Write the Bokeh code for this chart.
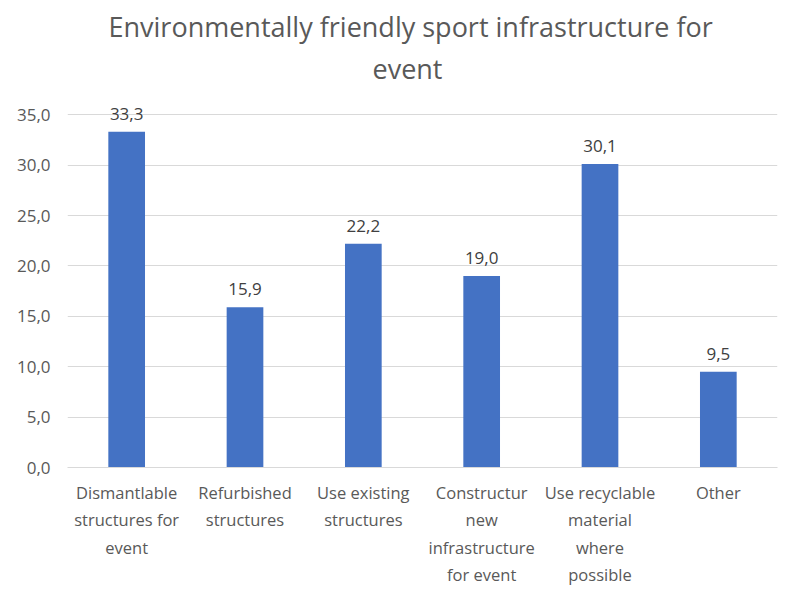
from bokeh.plotting import figure
from bokeh.models import FactorRange, Range1d, Title, ColumnDataSource, FixedTicker, CustomJSTickFormatter
from bokeh.core.properties import value
from bokeh.embed import file_html
from bokeh.resources import INLINE

categories = [
    "Dismantlable\nstructures for\nevent",
    "Refurbished\nstructures",
    "Use existing\nstructures",
    "Constructur\nnew\ninfrastructure\nfor event",
    "Use recyclable\nmaterial\nwhere\npossible",
    "Other",
]
values = [33.3, 15.9, 22.2, 19.0, 30.1, 9.5]
y_ticks = [0, 5, 10, 15, 20, 25, 30, 35]
title_lines = ["Environmentally friendly sport infrastructure for", "event"]

FONT = "Open Sans"
GREY = "#595959"

src = ColumnDataSource(dict(
    cat=categories,
    val=values,
    lab=[f"{v:.1f}".replace(".", ",") for v in values],
))

p = figure(
    width=781, height=589,
    x_range=FactorRange(factors=categories, range_padding=0),
    y_range=Range1d(0, 37.5),
    output_backend="svg", toolbar_location=None,
    min_border_left=67, min_border_right=4, min_border_top=89, min_border_bottom=122,
)
p.outline_line_color = None

# titles added bottom-up (closest to the plot first)
p.add_layout(Title(text=title_lines[1], align="left", offset=305, standoff=5, text_font=FONT,
                   text_font_size="27px", text_color=GREY, text_font_style="normal"), "above")
p.add_layout(Title(text=title_lines[0], align="left", offset=41, standoff=1, text_font=FONT,
                   text_font_size="27px", text_color=GREY, text_font_style="normal"), "above")

p.vbar(x="cat", top="val", width=0.31, source=src, color="#4472C4", line_color=None)
p.text(x="cat", y="val", text="lab", source=src, text_align="center", text_baseline="middle",
       y_offset=-18, text_font=value(FONT), text_font_size="17px", text_color="#404040")

p.xgrid.grid_line_color = None
p.ygrid.grid_line_color = "#d9d9d9"
p.ygrid.grid_line_width = 1

p.yaxis.ticker = FixedTicker(ticks=y_ticks)
p.yaxis.formatter = CustomJSTickFormatter(code="return tick.toFixed(1).replace('.', ',');")
p.yaxis.axis_line_color = None
p.yaxis.major_tick_line_color = None
p.yaxis.minor_tick_line_color = None
p.yaxis.major_label_standoff = 11

p.xaxis.axis_line_color = "#d9d9d9"
p.xaxis.major_tick_line_color = None
p.xaxis.minor_tick_line_color = None
p.xaxis.major_label_standoff = 7
p.xaxis.major_label_text_align = "center"
p.xaxis.major_label_text_baseline = "top"

p.yaxis.major_label_text_font_size = "17px"
p.xaxis.major_label_text_font_size = "16.5px"
for ax in (p.xaxis[0], p.yaxis[0]):
    ax.major_label_text_font = FONT
    ax.major_label_text_color = GREY

open("out.html", "w").write(file_html(p, INLINE))
